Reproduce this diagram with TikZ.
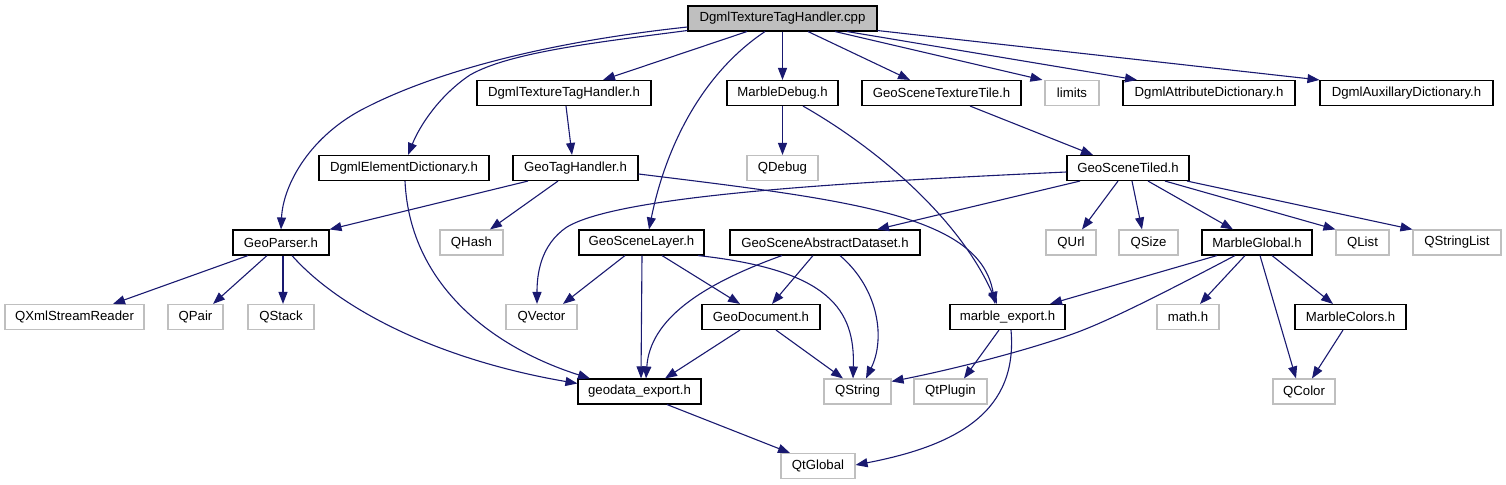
\documentclass[tikz,border=0pt]{standalone}
\usepackage{fontspec}
\setmainfont{Liberation Sans}
\usetikzlibrary{arrows.meta}
\definecolor{edgeblue}{HTML}{191970}
\definecolor{extgray}{HTML}{BFBFBF}
\tikzset{
  base/.style={rectangle, inner sep=0pt, minimum height=25bp, font=\fontsize{13.2bp}{15bp}\selectfont, fill=white},
  doc/.style={base, draw=black, line width=1.1bp},
  ext/.style={base, draw=extgray, line width=1.1bp},
  rootbox/.style={base, draw=black, fill=extgray, line width=1.1bp},
  edge/.style={draw=edgeblue, line width=1.1bp, -{Triangle[length=12bp,width=9bp]}}
}
\begin{document}
\begin{tikzpicture}[x=1bp,y=-1bp]
\useasboundingbox (0,0) rectangle (1506,485);
% row 1
\node[rootbox, minimum width=189bp] (root) at (782.5,18.5) {DgmlTextureTagHandler.cpp};
% row 2
\node[doc, minimum width=174bp] (dtth) at (564,93) {DgmlTextureTagHandler.h};
\node[doc, minimum width=111bp] (mdbg) at (782.5,93) {MarbleDebug.h};
\node[doc, minimum width=159bp] (gstt) at (941.5,93) {GeoSceneTextureTile.h};
\node[ext, minimum width=54bp] (limits) at (1072,93) {limits};
\node[doc, minimum width=172bp] (dad) at (1209,93) {DgmlAttributeDictionary.h};
\node[doc, minimum width=173bp] (daux) at (1406.5,93) {DgmlAuxillaryDictionary.h};
% row 3
\node[doc, minimum width=170bp] (ded) at (404,168) {DgmlElementDictionary.h};
\node[doc, minimum width=125bp] (gth) at (575.5,168) {GeoTagHandler.h};
\node[ext, minimum width=71bp] (qdebug) at (782.5,168) {QDebug};
\node[doc, minimum width=122bp] (gstiled) at (1128,168) {GeoSceneTiled.h};
% row 4
\node[doc, minimum width=96bp] (gparser) at (281,242.5) {GeoParser.h};
\node[ext, minimum width=63bp] (qhash) at (471.5,242.5) {QHash};
\node[doc, minimum width=125bp] (gsl) at (641.5,242.5) {GeoSceneLayer.h};
\node[doc, minimum width=190bp] (gsad) at (825,242.5) {GeoSceneAbstractDataset.h};
\node[ext, minimum width=50bp] (qurl) at (1071,242.5) {QUrl};
\node[ext, minimum width=59bp] (qsize) at (1148.5,242.5) {QSize};
\node[doc, minimum width=110bp] (mglobal) at (1257,242.5) {MarbleGlobal.h};
\node[ext, minimum width=53bp] (qlist) at (1362.5,242.5) {QList};
\node[ext, minimum width=88bp] (qstringlist) at (1457,242.5) {QStringList};
% row 5
\node[ext, minimum width=139bp] (qxml) at (74.5,317) {QXmlStreamReader};
\node[ext, minimum width=55bp] (qpair) at (195.5,317) {QPair};
\node[ext, minimum width=66bp] (qstack) at (281,317) {QStack};
\node[ext, minimum width=71bp] (qvector) at (541.5,317) {QVector};
\node[doc, minimum width=118bp] (gdoc) at (761,317) {GeoDocument.h};
\node[doc, minimum width=115bp] (mexport) at (1007.5,317) {marble\_export.h};
\node[ext, minimum width=62bp] (mathh) at (1188,317) {math.h};
\node[doc, minimum width=111bp] (mcolors) at (1350.5,317) {MarbleColors.h};
% row 6
\node[doc, minimum width=123bp] (gexport) at (639.5,391.5) {geodata\_export.h};
\node[ext, minimum width=67bp] (qstring) at (857.5,391.5) {QString};
\node[ext, minimum width=73bp] (qtplugin) at (950.5,391.5) {QtPlugin};
\node[ext, minimum width=62bp] (qcolor) at (1304,391.5) {QColor};
% row 7
\node[ext, minimum width=74bp] (qtglobal) at (818,466) {QtGlobal};

% edges from root
\draw[edge] ([yshift=-8.5bp]root.west) .. controls (520,45) and (420,80) .. (367,107) .. controls (310,135) and (283,185) .. (gparser.north);
\draw[edge] ([yshift=-12bp]root.west) .. controls (600,42) and (510,52) .. (470,75) .. controls (440,95) and (420,125) .. ([xshift=4bp]ded.north);
\draw[edge] ([xshift=-35.5bp]root.south) -- ([xshift=39bp]dtth.north);
\draw[edge] ([xshift=-17.5bp]root.south) .. controls (700,75) and (665,150) .. ([xshift=7.5bp]gsl.north);
\draw[edge] (root.south) -- (mdbg.north);
\draw[edge] ([xshift=25.5bp]root.south) -- ([xshift=-31.5bp]gstt.north);
\draw[edge] ([xshift=52.5bp]root.south) -- ([xshift=-2bp]limits.north west);
\draw[edge] ([xshift=64.5bp]root.south) -- ([xshift=-72bp]dad.north);
\draw[edge] ([yshift=1bp]root.south east) -- (daux.north west);
% row 2 edges
\draw[edge] ([xshift=2bp]dtth.south) -- ([xshift=-3.5bp]gth.north);
\draw[edge] (mdbg.south) -- (qdebug.north);
\draw[edge] ([xshift=20.5bp]mdbg.south) .. controls (880,150) and (960,220) .. ([xshift=-10.5bp]mexport.north);
\draw[edge] ([xshift=28.5bp]gstt.south) -- ([xshift=-35bp]gstiled.north);
% row 3 edges
\draw[edge] ([xshift=1bp]ded.south) .. controls (410,290) and (500,350) .. ([xshift=-49.5bp]gexport.north);
\draw[edge] ([xshift=-47.5bp]gth.south) -- (gparser.north east);
\draw[edge] ([xshift=-17.5bp]gth.south) -- ([xshift=18.5bp]qhash.north);
\draw[edge] ([yshift=-6bp]gth.east) .. controls (850,200) and (980,215) .. ([xshift=-12.5bp]mexport.north);
\draw[edge] ([yshift=-4bp]gstiled.west) .. controls (850,182) and (620,195) .. (567,227) .. controls (540,245) and (537,275) .. ([xshift=-4.5bp]qvector.north);
\draw[edge] ([xshift=-48bp]gstiled.south) -- ([xshift=52bp]gsad.north);
\draw[edge] ([xshift=-10bp]gstiled.south) -- ([xshift=11bp]qurl.north);
\draw[edge] ([xshift=4bp]gstiled.south) -- ([xshift=-6.5bp]qsize.north);
\draw[edge] ([xshift=20bp]gstiled.south) -- ([xshift=-24bp]mglobal.north);
\draw[edge] ([xshift=37bp]gstiled.south) -- (qlist.north west);
\draw[edge] ([xshift=59bp]gstiled.south) -- (qstringlist.north west);
% row 4 edges
\draw[edge] ([xshift=-33bp]gparser.south) -- ([xshift=38.5bp]qxml.north);
\draw[edge] ([xshift=-14bp]gparser.south) -- ([xshift=17.5bp]qpair.north);
\draw[edge] ([xshift=2bp]gparser.south) -- ([xshift=2bp]qstack.north);
\draw[edge] ([xshift=11bp]gparser.south) .. controls (340,310) and (440,360) .. ([yshift=8bp]gexport.west);
\draw[edge] ([xshift=-16.5bp]gsl.south) -- ([xshift=21.5bp]qvector.north);
\draw[edge] ([xshift=0.5bp]gsl.south) -- ([xshift=1.5bp]gexport.north);
\draw[edge] ([xshift=20.5bp]gsl.south) -- ([xshift=-21bp]gdoc.north);
\draw[edge] ([xshift=56.5bp]gsl.south) .. controls (830,270) and (855,310) .. ([xshift=-4.5bp]qstring.north);
\draw[edge] ([xshift=-43bp]gsad.south) .. controls (700,285) and (650,320) .. ([xshift=6.5bp]gexport.north);
\draw[edge] ([xshift=-12bp]gsad.south) -- ([xshift=11bp]gdoc.north);
\draw[edge] ([xshift=15bp]gsad.south) .. controls (880,290) and (885,340) .. ([xshift=8.5bp]qstring.north);
\draw[edge] ([xshift=-40bp]mglobal.south) -- ([xshift=42.5bp]mexport.north);
\draw[edge] ([xshift=-22bp]mglobal.south) .. controls (1160,295) and (1110,320) .. (1078,332) .. controls (1030,350) and (950,370) .. ([yshift=-3bp]qstring.north east);
\draw[edge] ([xshift=-12bp]mglobal.south) -- ([xshift=12bp]mathh.north);
\draw[edge] ([xshift=3bp]mglobal.south) -- ([xshift=-8bp]qcolor.north);
\draw[edge] ([xshift=15bp]mglobal.south) -- ([xshift=-17.5bp]mcolors.north);
% row 5 edges
\draw[edge] ([xshift=-21bp]gdoc.south) -- ([xshift=25.5bp]gexport.north);
\draw[edge] ([xshift=15bp]gdoc.south) -- ([xshift=-14.5bp]qstring.north);
\draw[edge] ([xshift=-7.5bp]mcolors.south) -- ([xshift=8bp]qcolor.north);
\draw[edge] ([xshift=-8.5bp]mexport.south) -- ([xshift=13.5bp]qtplugin.north);
\draw[edge] ([xshift=3.5bp]mexport.south) .. controls (1018,410) and (960,445) .. ([yshift=1bp]qtglobal.east);
% row 6 edges
\draw[edge] ([xshift=27.5bp]gexport.south) -- ([xshift=-28bp]qtglobal.north);
\end{tikzpicture}
\end{document}
